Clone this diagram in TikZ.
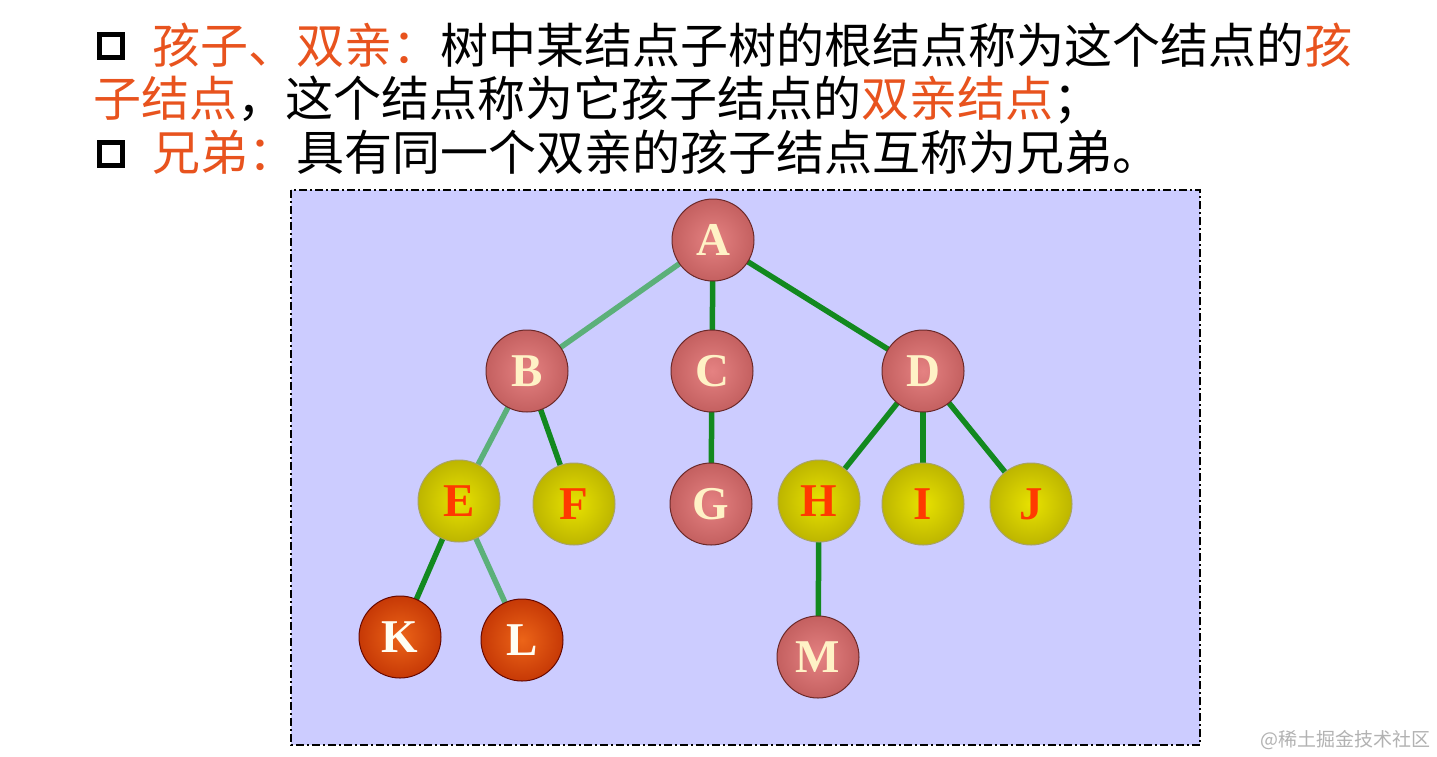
\documentclass[tikz,border=0pt]{standalone}
\usepackage{fontspec}
\setmainfont{Liberation Serif}
\newfontfamily\cjk{Noto Sans CJK SC}
\definecolor{hl}{HTML}{E8531E}
\definecolor{panel}{HTML}{CCCCFF}
\definecolor{edgedark}{HTML}{12891F}
\definecolor{edgelight}{HTML}{5BB07A}
\definecolor{roseA}{HTML}{E58282}
\definecolor{roseB}{HTML}{C05C5C}
\definecolor{roseC}{HTML}{7E3030}
\definecolor{yelA}{HTML}{E8E200}
\definecolor{yelB}{HTML}{B8B000}
\definecolor{yelC}{HTML}{6E6600}
\definecolor{redA}{HTML}{EC6418}
\definecolor{redB}{HTML}{C23404}
\definecolor{redC}{HTML}{660800}
\definecolor{cream}{HTML}{FFF2C6}
\definecolor{ltred}{HTML}{FF3A00}
\pgfdeclareradialshading{sphrose}{\pgfpoint{0bp}{0bp}}{color(0bp)=(roseA); color(28bp)=(roseB); color(50bp)=(roseC)}
\pgfdeclareradialshading{sphyel}{\pgfpoint{0bp}{0bp}}{color(0bp)=(yelA); color(28bp)=(yelB); color(50bp)=(yelC)}
\pgfdeclareradialshading{sphred}{\pgfpoint{0bp}{0bp}}{color(0bp)=(redA); color(28bp)=(redB); color(50bp)=(redC)}
\pgfdeclarelayer{bg}
\pgfdeclarelayer{edges}
\pgfsetlayers{bg,edges,main}
\tikzset{
  ball/.style={circle, minimum size=82pt, inner sep=0pt, line width=1pt,
    font=\bfseries\fontsize{47}{47}\selectfont},
  rose/.style={ball, shading=sphrose, draw=roseC!85!black, text=cream},
  yel/.style={ball, shading=sphyel, draw=yelC!60!white, text=ltred},
  redb/.style={ball, shading=sphred, draw=redC, text=white!95!yellow},
  dk/.style={draw=edgedark, line width=5.5pt},
  lt/.style={draw=edgelight, line width=5.5pt},
  line/.style={anchor=base west, inner sep=0pt, font=\cjk\fontsize{48}{48}\selectfont},
  bullet/.style={draw=black, line width=5.5pt, minimum size=23pt, inner sep=0pt}
}
\begin{document}
\begin{tikzpicture}[x=1pt,y=-1pt]
\useasboundingbox (0,0) rectangle (1437,756);
\begin{pgfonlayer}{bg}
\fill[white] (0,0) rectangle (1437,756);
\draw[fill=panel, draw=black, line width=2pt, dash pattern=on 8pt off 3pt on 2pt off 3pt] (291,190) rectangle (1200,745);
\end{pgfonlayer}
% heading text
\node[bullet] (b1) at (111,46) {};
\node[line] (t1) at (152,63) {\textcolor{hl}{孩子、双亲：}树中某结点子树的根结点称为这个结点的\textcolor{hl}{孩}};
\node[line] (t2) at (93,116) {\textcolor{hl}{子结点}，这个结点称为它孩子结点的\textcolor{hl}{双亲结点}；};
\node[bullet] (b2) at (111,154) {};
\node[line] (t3) at (152,170) {\textcolor{hl}{兄弟：}具有同一个双亲的孩子结点互称为兄弟。};
% nodes
\node[rose] (A) at (713,240) {A};
\node[rose] (B) at (527,371) {B};
\node[rose] (C) at (712,371) {C};
\node[rose] (D) at (923,371) {D};
\node[yel]  (E) at (459,501) {E};
\node[yel]  (F) at (574,504) {F};
\node[rose] (G) at (711,504) {G};
\node[yel]  (H) at (819,501) {H};
\node[yel]  (I) at (923,504) {I};
\node[yel]  (J) at (1031,504) {J};
\node[redb] (K) at (400,637) {K};
\node[redb] (L) at (522,640) {L};
\node[rose] (M) at (818,657) {M};
% edges
\begin{pgfonlayer}{edges}
\draw[lt] (A.center) -- (B.center);
\draw[dk] (A.center) -- (C.center);
\draw[dk] (A.center) -- (D.center);
\draw[lt] (B.center) -- (E.center);
\draw[dk] (B.center) -- (F.center);
\draw[dk] (C.center) -- (G.center);
\draw[dk] (D.center) -- (H.center);
\draw[dk] (D.center) -- (I.center);
\draw[dk] (D.center) -- (J.center);
\draw[dk] (E.center) -- (K.center);
\draw[lt] (E.center) -- (L.center);
\draw[dk] (H.center) -- (M.center);
\end{pgfonlayer}
% watermark
\node[anchor=east, inner sep=0pt, text=black!30, font=\cjk\fontsize{19}{19}\selectfont] (wm) at (1431,740) {@稀土掘金技术社区};
\end{tikzpicture}
\end{document}
